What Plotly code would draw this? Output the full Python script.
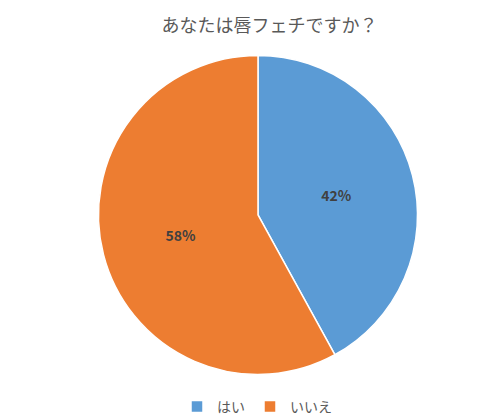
import plotly.graph_objects as go

labels = ["はい", "いいえ"]
values = [42, 58]
colors = ["#5B9BD5", "#ED7D31"]

fig = go.Figure(go.Pie(
    labels=labels, values=values, sort=False, direction="clockwise", rotation=0,
    marker=dict(colors=colors, line=dict(color="white", width=1.5)),
    texttemplate="%{percent:.0%}", textposition="inside", insidetextorientation="horizontal",
    textfont=dict(family="Noto Sans CJK JP", size=14, color="#404040"),
    domain=dict(x=[0.177, 0.827], y=[0.104, 0.884]),
))
fig.update_traces(texttemplate="<b>%{percent:.0%}</b>")
fig.update_layout(
    width=498, height=415, margin=dict(l=0, r=0, t=0, b=0),
    paper_bgcolor="white",
    title=dict(text="あなたは唇フェチですか？", x=0.525, xanchor="center", y=0.957, yanchor="middle",
               font=dict(family="Noto Sans CJK JP", size=18, color="#595959")),
    legend=dict(orientation="h", x=0.5, xanchor="center", y=0.025, yanchor="middle",
                font=dict(family="Noto Sans CJK JP", size=14, color="#595959")),
    font=dict(family="Noto Sans CJK JP"),
)
fig.write_html("out.html")
